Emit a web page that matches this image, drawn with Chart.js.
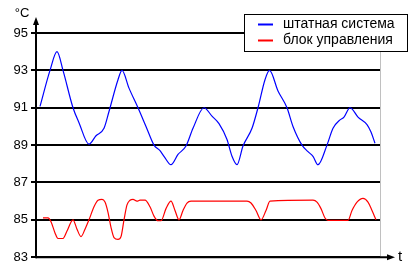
<!DOCTYPE html>
<html>
<head>
<meta charset="utf-8">
<script src="https://cdn.jsdelivr.net/npm/chart.js@4/dist/chart.umd.min.js"></script>
<style>
  html, body { margin: 0; padding: 0; background: #fff; }
  #wrap { width: 416px; height: 268px; }
</style>
</head>
<body>
<div id="wrap"><canvas id="tempChart" width="416" height="268"></canvas></div>
<script>
// time axis (arbitrary units, 0..344)
const tMax = 344

// штатная система
const sysT = [4, 14, 21, 27, 37, 43, 53, 60, 68, 73, 82, 86, 93, 102, 110, 118, 124, 128, 135, 142, 150, 157, 168, 176, 183, 191, 196, 201, 207, 216, 222, 229, 233.5, 242, 251, 257, 266, 272, 277, 282, 291, 297, 304, 308, 314, 322, 331, 335, 339]
const sysV = [91.07, 93.0, 94.0, 93.0, 91.0, 90.2, 89.05, 89.5, 89.9, 90.8, 92.5, 93.0, 92.05, 91.0, 90.0, 89.0, 88.7, 88.4, 87.95, 88.5, 88.95, 89.9, 91.0, 90.55, 90.15, 89.3, 88.4, 87.95, 88.95, 89.9, 91.0, 92.5, 93.0, 91.9, 91.0, 90.0, 89.0, 88.65, 88.4, 87.95, 89.0, 89.9, 90.35, 90.5, 91.0, 90.5, 90.1, 89.7, 89.1]

// блок управления
const ctrlT = [7, 12, 15, 19, 22, 27, 31, 37, 41, 45, 49, 53, 58, 62, 66, 69, 72, 75, 78, 82, 85, 88, 91, 94, 97, 101, 104, 109, 114, 118, 122, 125, 130, 135, 139, 143, 147, 151, 155, 211, 215, 220, 225, 230, 234, 277, 281, 285, 289, 292, 312, 316, 321, 327, 332, 336, 340]
const ctrlV = [85.1, 85.1, 84.9, 84.3, 84.0, 84.0, 84.4, 85.0, 84.5, 84.1, 84.5, 85.0, 85.7, 86.05, 86.1, 85.95, 85.4, 84.6, 84.05, 83.95, 84.1, 85.0, 85.8, 86.05, 86.1, 86.0, 86.05, 86.05, 85.7, 85.2, 84.95, 84.95, 85.6, 86.0, 85.5, 85.0, 85.5, 85.9, 86.0, 86.0, 85.9, 85.5, 85.0, 85.5, 86.0, 86.05, 85.95, 85.6, 85.1, 84.97, 84.97, 85.5, 85.95, 86.15, 85.95, 85.5, 85.0]

const yMin = 83
const yMax = 95
const yStep = 2

const seriesNames = ['штатная система', 'блок управления']
const blueColor = '#0000ff'
const redColor = '#ff0000'
const fontFamily = "'Liberation Sans', Arial, sans-serif"

function toPoints(ts, vs) {
  var pts = []
  for (var i = 0; i < ts.length; i++) {
    pts.push({ x: ts[i], y: vs[i] })
  }
  return pts
}

// axes with arrows, labels, right border and boxed legend
const decorPlugin = {
  id: 'decor',
  beforeDatasetsDraw(chart) {
    const c = chart.ctx
    const a = chart.chartArea
    c.save()
    c.strokeStyle = '#c0c0c0'
    c.lineWidth = 1
    c.beginPath()
    c.moveTo(a.right + 0.5, a.top)
    c.lineTo(a.right + 0.5, a.bottom)
    c.stroke()
    c.restore()
  },
  afterDraw(chart) {
    const c = chart.ctx
    const a = chart.chartArea
    c.save()
    c.strokeStyle = '#000'
    c.fillStyle = '#000'
    c.lineWidth = 2
    // y axis
    c.beginPath()
    c.moveTo(a.left, a.bottom + 1)
    c.lineTo(a.left, 22)
    c.stroke()
    c.beginPath()
    c.moveTo(a.left, 17)
    c.lineTo(a.left - 3, 25)
    c.lineTo(a.left + 3, 25)
    c.closePath()
    c.fill()
    // x axis
    c.beginPath()
    c.moveTo(a.left, a.bottom)
    c.lineTo(390, a.bottom)
    c.stroke()
    c.beginPath()
    c.moveTo(395, a.bottom)
    c.lineTo(387, a.bottom - 3)
    c.lineTo(387, a.bottom + 3)
    c.closePath()
    c.fill()

    c.font = '13px ' + fontFamily
    c.textBaseline = 'middle'
    c.textAlign = 'center'
    c.fillText('°C', 22, 13)
    c.font = '15px ' + fontFamily
    c.fillText('t', 400, 257)

    // legend
    c.fillStyle = '#fff'
    c.fillRect(244, 14, 164, 38)
    c.strokeStyle = '#000'
    c.lineWidth = 1
    c.strokeRect(244.5, 14.5, 163, 37)
    c.font = '14px ' + fontFamily
    c.textAlign = 'left'
    const rows = [24.5, 40.5]
    chart.data.datasets.forEach(function (ds, i) {
      c.strokeStyle = ds.borderColor
      c.lineWidth = 2
      c.beginPath()
      c.moveTo(258, rows[i])
      c.lineTo(273, rows[i])
      c.stroke()
      c.fillStyle = '#000'
      c.fillText(ds.label, 283, rows[i])
    })
    c.restore()
  }
}

var ctx = document.getElementById('tempChart')
var lineChart = new Chart(ctx, {
  type: 'line',
  data: {
    datasets: [{
      label: seriesNames[0],
      data: toPoints(sysT, sysV),
      borderColor: blueColor,
      borderWidth: 1.2,
      pointRadius: 0,
      fill: false,
      cubicInterpolationMode: 'monotone'
    }, {
      label: seriesNames[1],
      data: toPoints(ctrlT, ctrlV),
      borderColor: redColor,
      borderWidth: 1.2,
      pointRadius: 0,
      fill: false,
      cubicInterpolationMode: 'monotone'
    }]
  },
  options: {
    responsive: false,
    animation: false,
    layout: { padding: { top: 33, right: 36, left: 0, bottom: 0 } },
    plugins: {
      legend: { display: false },
      tooltip: { enabled: false }
    },
    scales: {
      x: {
        type: 'linear',
        min: 0,
        max: tMax,
        grid: { display: false },
        border: { display: false },
        ticks: { display: false },
        afterFit: function (scale) { scale.height = 10 }
      },
      y: {
        min: yMin,
        max: yMax,
        grid: { color: '#000', lineWidth: 2, tickLength: 5, drawTicks: true },
        border: { display: false },
        ticks: {
          stepSize: yStep,
          padding: 3,
          color: '#000',
          font: { family: fontFamily, size: 13 }
        },
        afterFit: function (scale) { scale.width = 36 }
      }
    }
  },
  plugins: [decorPlugin]
})
</script>
</body>
</html>
